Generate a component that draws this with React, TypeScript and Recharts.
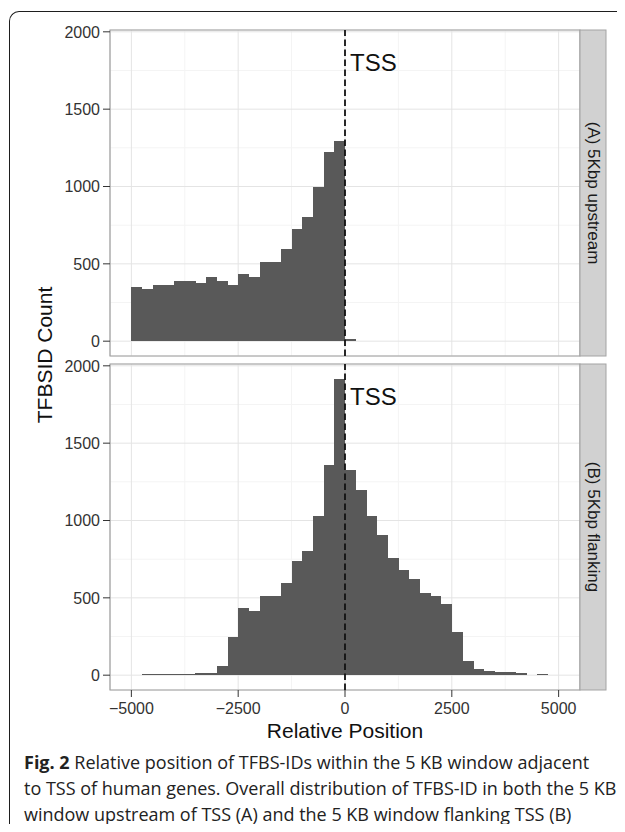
import React from 'react';
import { BarChart, Bar, XAxis, YAxis, CartesianGrid, ReferenceLine, ReferenceDot, ReferenceArea } from 'recharts';

// Bin start positions (bin width 250 bp)
const binStarts = [
  -5500, -5250, -5000, -4750, -4500, -4250, -4000, -3750, -3500, -3250, -3000,
  -2750, -2500, -2250, -2000, -1750, -1500, -1250, -1000, -750, -500, -250,
  0, 250, 500, 750, 1000, 1250, 1500, 1750, 2000, 2250, 2500, 2750, 3000,
  3250, 3500, 3750, 4000, 4250, 4500, 4750, 5000, 5250,
];

// (A) 5Kbp upstream counts
const upstreamCounts = [
  null, null, 349, 340, 366, 366, 392, 392, 379, 418, 392,
  366, 437, 418, 515, 515, 593, 728, 806, 1000, 1220, 1297,
  11, null, null, null, null, null, null, null, null, null, null, null, null,
  null, null, null, null, null, null, null, null, null,
];

// (B) 5Kbp flanking counts
const flankingCounts = [
  null, null, 2, 5, 5, 5, 5, 7, 15, 15, 60,
  249, 437, 418, 515, 515, 593, 735, 806, 1026, 1356, 1916,
  1328, 1194, 1032, 909, 759, 677, 625, 534, 513, 457, 281, 89, 41,
  24, 23, 19, 11, 4, 9, 3, null, null,
];

const panelLabels = ['(A) 5Kbp upstream', '(B) 5Kbp flanking'];
const xTicks = [-5000, -2500, 0, 2500, 5000];
const xMinor = [-3750, -1250, 1250, 3750];
const yTicks = [0, 500, 1000, 1500, 2000];
const yMinor = [250, 750, 1250, 1750];
const xDomain = [-5500, 5500];
const tssPosition = 0;
const tssLabelY = 1800;
const captionLines = [
  ['Fig. 2', ' Relative position of TFBS-IDs within the 5 KB window adjacent'],
  ['', 'to TSS of human genes. Overall distribution of TFBS-ID in both the 5 KB'],
  ['', 'window upstream of TSS (A) and the 5 KB window flanking TSS (B)'],
];

const allCounts = [...upstreamCounts, ...flankingCounts].filter((v) => v != null) as number[];
const yMax = Math.max(...allCounts);
const yDomain = [-yMax * 0.05, yMax * 1.05];

const BAR = '#595959';
const FONT = '"Liberation Sans", Arial, sans-serif';

const fmt = (v: number) => (v < 0 ? '\u2212' + Math.abs(v) : String(v));

function Panel({ values, showX, height, margin }: any) {
  const data = binStarts.map((b, i) => ({ bin: b, count: values[i] }));
  return (
    <BarChart width={609} height={height} data={data} margin={margin} barCategoryGap={0} barGap={0}>
      <XAxis
        xAxisId="num"
        dataKey="bin"
        type="number"
        domain={xDomain}
        ticks={xTicks}
        allowDataOverflow
        hide={!showX}
        tickFormatter={fmt}
        tick={{ fontSize: 16, fill: '#333' }}
        tickLine={{ stroke: '#333' }}
        tickSize={7}
        tickMargin={6}
        axisLine={false}
        height={48}
        label={showX ? { value: 'Relative Position', position: 'insideBottom', offset: 0, fontSize: 21, fill: '#111' } : undefined}
      />
      <XAxis xAxisId="cat" dataKey="bin" type="category" hide height={0} />
      <YAxis
        type="number"
        domain={yDomain}
        ticks={yTicks}
        allowDataOverflow
        width={60}
        tick={{ fontSize: 16, fill: '#333' }}
        tickLine={{ stroke: '#333' }}
        tickSize={7}
        tickMargin={3}
        axisLine={false}
      />
      <CartesianGrid xAxisId="num" verticalValues={xMinor} horizontalValues={yMinor} stroke="#f4f4f4" />
      <CartesianGrid xAxisId="num" stroke="#e4e4e4" />
      <Bar
        xAxisId="cat"
        dataKey="count"
        fill={BAR}
        isAnimationActive={false}
        shape={(p: any) => (
          <rect x={p.x} y={p.y} width={p.width} height={p.height} fill={BAR} shapeRendering="crispEdges" />
        )}
      />
      <ReferenceArea xAxisId="num" x1={xDomain[0]} x2={xDomain[1]} y1={yDomain[0]} y2={yDomain[1]} fill="none" stroke="#a0a0a0" strokeWidth={1.2} />
      <ReferenceLine xAxisId="num" x={tssPosition} stroke="#111" strokeWidth={1.8} strokeDasharray="6.5 3.5" />
      <ReferenceDot
        xAxisId="num"
        x={tssPosition}
        y={tssLabelY}
        r={1}
        fill="none"
        stroke="none"
        label={{ value: 'TSS', position: 'right', offset: 4, fontSize: 24, fill: '#111' }}
      />
    </BarChart>
  );
}

export default function App() {
  return (
    <div style={{ position: 'relative', width: 609, height: 816, fontFamily: FONT, background: '#fff' }}>
      <div
        style={{
          position: 'absolute', left: 1, top: 3, width: 616, height: 821, boxSizing: 'border-box',
          borderTop: '1.5px solid #1e1e1e', borderLeft: '1.5px solid #1e1e1e', borderTopLeftRadius: 10,
        }}
      />
      <div style={{ position: 'absolute', left: 0, top: 0 }}>
        <Panel values={upstreamCounts} showX={false} height={360} margin={{ top: 22, right: 37, bottom: 12, left: 42 }} />
      </div>
      <div style={{ position: 'absolute', left: 0, top: 348 }}>
        <Panel values={flankingCounts} showX={true} height={420} margin={{ top: 8, right: 37, bottom: 38, left: 42 }} />
      </div>
      <svg width={609} height={816} style={{ position: 'absolute', left: 0, top: 0, overflow: 'visible', pointerEvents: 'none' }}>
        <rect x={572} y={22} width={26} height={326} fill="#d1d1d1" stroke="#a3a3a3" strokeWidth={1} />
        <rect x={572} y={356} width={26} height={326} fill="#d1d1d1" stroke="#a3a3a3" strokeWidth={1} />
        <text transform="translate(585,185) rotate(90)" textAnchor="middle" dominantBaseline="central" fontSize={17} fill="#1a1a1a" fontFamily={FONT}>
          {panelLabels[0]}
        </text>
        <text transform="translate(585,519) rotate(90)" textAnchor="middle" dominantBaseline="central" fontSize={17} fill="#1a1a1a" fontFamily={FONT}>
          {panelLabels[1]}
        </text>
        <text transform="translate(36,347) rotate(-90)" textAnchor="middle" dominantBaseline="central" fontSize={21} fill="#111" fontFamily={FONT}>
          TFBSID Count
        </text>
        {captionLines.map((line, i) => (
          <text key={i} x={16} y={761 + i * 26} fontSize={18} fill="#222" fontFamily={'"Open Sans", sans-serif'}>
            {line[0] ? <tspan fontWeight="bold">{line[0]}</tspan> : null}
            <tspan>{line[1]}</tspan>
          </text>
        ))}
      </svg>
    </div>
  );
}
